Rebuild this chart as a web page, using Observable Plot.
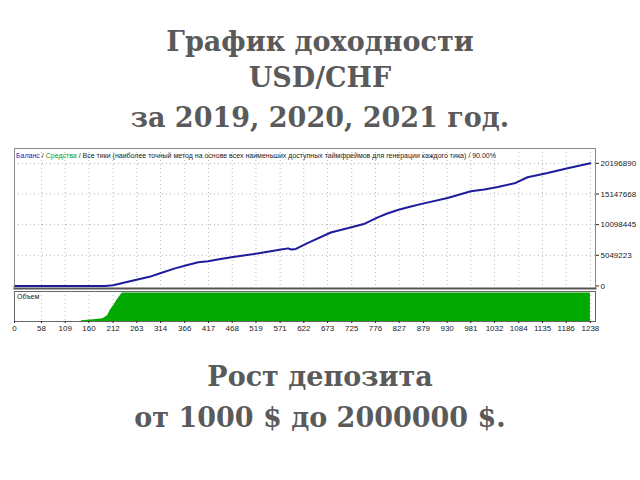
<!DOCTYPE html>
<html><head><meta charset="utf-8">
<script src="https://cdn.jsdelivr.net/npm/d3@7"></script>
<script src="https://cdn.jsdelivr.net/npm/@observablehq/plot@0.6"></script>
<style>
body{margin:0;background:#fff;width:640px;height:480px;overflow:hidden;position:relative}
.t{position:absolute;left:0;width:640px;text-align:center;color:#5a5a5a;font-family:"DejaVu Serif",serif;font-weight:bold;font-size:27px;line-height:38px;white-space:nowrap}
#main{position:absolute;left:0;top:140px}
#vol{position:absolute;left:0;top:288px}
.lg{position:absolute;left:16px;top:152px;font:7px "Liberation Sans",sans-serif;white-space:nowrap;color:#222}
.vl{position:absolute;left:17px;top:293px;font:7px "Liberation Sans",sans-serif;white-space:nowrap;color:#222}
</style></head><body>
<div class="t" style="top:23px">График доходности</div>
<div class="t" style="top:59px">USD/CHF</div>
<div class="t" style="top:99px">за 2019, 2020, 2021 год.</div>
<div id="main"></div>
<div id="vol"></div>
<div class="lg"><span style="color:#2020c0">Баланс</span> / <span style="color:#10a010">Средства</span> / Все тики (наиболее точный метод на основе всех наименьших доступных таймфреймов для генерации каждого тика) / 90.00%</div>
<div class="vl">Объем</div>
<div class="t" style="top:358px">Рост депозита</div>
<div class="t" style="top:399px">от 1000 $ до 2000000 $.</div>
<script>
const xTicks = [0,58,109,160,212,263,314,366,417,468,519,571,622,673,725,776,827,879,930,981,1032,1084,1135,1186,1238];
const yTicks = [0,5049223,10098445,15147668,20196890];
const equityIdx = [0,100,195,212,230,260,290,310,345,370,395,416,440,466,500,538,570,588,595,605,631,680,720,753,781,800,824,852,880,931,981,1010,1039,1075,1103,1146,1189,1238];
const equityVal = [1000,1000,1000,120000,450000,980000,1500000,2000000,2900000,3400000,3900000,4070000,4400000,4720000,5100000,5540000,5950000,6190000,6000000,6100000,7100000,8800000,9600000,10260000,11300000,11900000,12500000,13100000,13600000,14500000,15600000,15900000,16300000,16900000,17900000,18600000,19400000,20196890];
const volIdx = [144,170,190,200,206,214,221,228,232,1238];
const volVal = [3,6,10,20,39,58,76,92,100,100];

const equity = equityIdx.map((x,i)=>({x, y: equityVal[i]}));
const vol = volIdx.map((x,i)=>({x, y: volVal[i]}));
const style = {fontFamily:"Liberation Sans, sans-serif", fontSize:"8px", background:"transparent", color:"#222", overflow:"visible"};

const main = Plot.plot({
  width:640, height:150, marginLeft:14, marginRight:45, marginTop:8, marginBottom:2,
  style,
  x:{domain:[0,1249], axis:null},
  y:{domain:[-420000,22640000], axis:null},
  marks:[
    Plot.ruleY(yTicks.slice(1), {stroke:"#b8b8b8", strokeDasharray:"1,3"}),
    Plot.ruleX(xTicks.slice(1), {stroke:"#b8b8b8", strokeDasharray:"1,3"}),
    Plot.line(equity, {x:"x", y:"y", stroke:"#1c1c9c", strokeWidth:2}),
    Plot.frame({stroke:"#888"}),
    Plot.frame({anchor:"bottom", stroke:"#555", strokeWidth:2}),
    Plot.axisY(yTicks, {anchor:"right", tickSize:3, tickPadding:2, tickFormat:d=>String(d), fontSize:8, label:null})
  ]
});
document.getElementById("main").append(main);

const volPlot = Plot.plot({
  width:640, height:50, marginLeft:14, marginRight:45, marginTop:3, marginBottom:17,
  style,
  x:{domain:[0,1249], axis:null},
  y:{domain:[0,105], axis:null},
  marks:[
    Plot.ruleX(xTicks.slice(1), {stroke:"#b8b8b8", strokeDasharray:"1,3"}),
    Plot.areaY(vol, {x:"x", y:"y", fill:"#00a800"}),
    Plot.frame({stroke:"#666"}),
    Plot.axisX(xTicks, {anchor:"bottom", tickSize:2, tickPadding:2, tickFormat:d=>String(d), fontSize:8, label:null})
  ]
});
document.getElementById("vol").append(volPlot);
</script>
</body></html>
